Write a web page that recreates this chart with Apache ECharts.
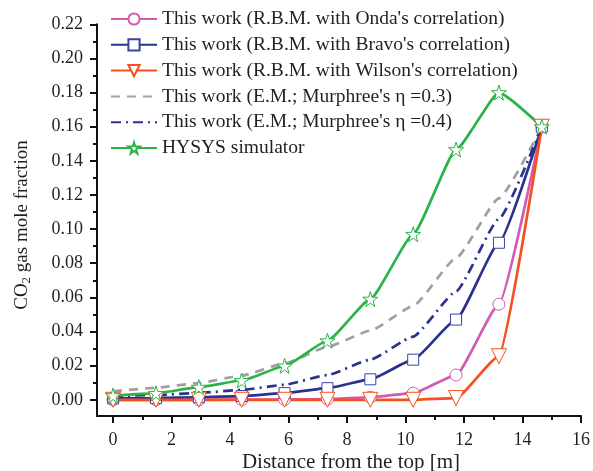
<!DOCTYPE html>
<html>
<head>
<meta charset="utf-8">
<script src="https://cdn.jsdelivr.net/npm/echarts@6/dist/echarts.min.js"></script>
<style>html,body{margin:0;padding:0;background:#fff}#c{width:593px;height:471px}</style>
</head>
<body>
<div id="c"></div>
<script>
// Distance from the top [m]
const xPos = [0, 1.466, 2.932, 4.398, 5.864, 7.33, 8.796, 10.262, 11.728, 13.194, 14.66];
const onda   = [0, 0, 0, 0.0001, 0.0002, 0.0004, 0.0015, 0.0039, 0.0145, 0.056, 0.16];
const bravo  = [0.0008, 0.001, 0.0015, 0.0022, 0.0039, 0.0068, 0.012, 0.0235, 0.047, 0.092, 0.16];
const wilson = [0, 0, 0, 0, 0, 0, 0, 0, 0.001, 0.0255, 0.16];
const eta03  = [0.005, 0.007, 0.0098, 0.0142, 0.0213, 0.031, 0.0405, 0.055, 0.083, 0.118, 0.16];
const eta04  = [0.0022, 0.0028, 0.004, 0.0058, 0.0088, 0.0145, 0.0235, 0.037, 0.0635, 0.106, 0.16];
const hysys  = [0.0025, 0.0038, 0.0074, 0.0113, 0.0198, 0.0346, 0.059, 0.097, 0.1466, 0.18, 0.16];

const seriesNames = [
  "This work (R.B.M. with Onda's correlation)",
  "This work (R.B.M. with Bravo's correlation)",
  "This work (R.B.M. with Wilson's correlation)",
  "This work (E.M.; Murphree's \u03b7 =0.3)",
  "This work (E.M.; Murphree's \u03b7 =0.4)",
  "HYSYS simulator"
];
const xMajor = [0, 2, 4, 6, 8, 10, 12, 14, 16];
const xMinor = [1, 3, 5, 7, 9, 11, 13, 15];
const yMajor = [0, 0.02, 0.04, 0.06, 0.08, 0.10, 0.12, 0.14, 0.16, 0.18, 0.20, 0.22];
const yMinor = [0.01, 0.03, 0.05, 0.07, 0.09, 0.11, 0.13, 0.15, 0.17, 0.19, 0.21];

const pair = arr => arr.map((v, i) => [xPos[i], v]);
const FONT = "'Liberation Serif', 'DejaVu Serif', serif";
const TXT = '#231f20';
const starPath = 'path://M50,2 L61,37 L98,37 L68,59 L79,95 L50,73 L21,95 L32,59 L2,37 L39,37 Z';

const chart = echarts.init(document.getElementById('c'));
const axisLineStyle = {color: '#111', width: 2};
const smoothV = 0.15;
const LW = 2.7;
chart.setOption({
  animation: false,
  backgroundColor: '#fff',
  grid: {left: 97, right: 7, top: 24.3, bottom: 55, containLabel: false},
  legend: {
    orient: 'vertical', left: 105, top: 4,
    itemWidth: 46, itemHeight: 14, itemGap: 5.8,
    textStyle: {fontFamily: FONT, fontSize: 19.5, color: TXT},
    data: seriesNames.map((n, i) => (i === 3 || i === 4) ? {name: n, itemStyle: {opacity: 0}} : {name: n})
  },
  xAxis: [{
    type: 'value', min: -0.55, max: 16,
    axisLine: {show: true, onZero: false, lineStyle: axisLineStyle},
    axisTick: {show: true, length: 7, inside: false, lineStyle: {color: '#111', width: 2}, customValues: xMajor},
    axisLabel: {fontFamily: FONT, fontSize: 18, color: TXT, margin: 15, customValues: xMajor, formatter: v => String(v)},
    splitLine: {show: false}
  }, {
    type: 'value', min: -0.55, max: 16, position: 'bottom', offset: 0,
    axisLine: {show: false, onZero: false},
    axisTick: {show: true, length: 4, lineStyle: {color: '#111', width: 2}, customValues: xMinor},
    axisLabel: {show: false},
    splitLine: {show: false}
  }],
  yAxis: [{
    type: 'value', min: -0.0095, max: 0.22,
    axisLine: {show: true, onZero: false, lineStyle: axisLineStyle},
    axisTick: {show: true, length: 7, lineStyle: {color: '#111', width: 2}, customValues: yMajor},
    axisLabel: {fontFamily: FONT, fontSize: 18, color: TXT, margin: 14, customValues: yMajor, formatter: v => v.toFixed(2)},
    splitLine: {show: false}
  }, {
    type: 'value', min: -0.0095, max: 0.22, position: 'left', offset: 0,
    axisLine: {show: false, onZero: false},
    axisTick: {show: true, length: 4, lineStyle: {color: '#111', width: 2}, customValues: yMinor},
    axisLabel: {show: false},
    splitLine: {show: false}
  }],
  graphic: [{
    type: 'text', x: 22, y: 225, rotation: Math.PI / 2,
    style: {
      text: '{a|CO}{s|2}{a| gas mole fraction}',
      align: 'center', verticalAlign: 'middle',
      rich: {
        a: {fontFamily: FONT, fontSize: 19, fill: TXT, color: TXT},
        s: {fontFamily: FONT, fontSize: 13, fill: TXT, color: TXT, verticalAlign: 'bottom', padding: [10, 0, 0, 0]}
      }
    }
  }, {
    type: 'text', x: 351, y: 462,
    style: {text: 'Distance from the top [m]', fontFamily: FONT, fontSize: 21, fill: TXT, align: 'center', verticalAlign: 'middle'}
  }],
  series: [
    {name: seriesNames[0], type: 'line', data: pair(onda), smooth: smoothV, smoothMonotone: 'x',
     lineStyle: {color: '#d25cb4', width: LW}, itemStyle: {color: '#fff', borderColor: '#d25cb4', borderWidth: 1},
     symbol: 'circle', symbolSize: 12, showAllSymbol: true},
    {name: seriesNames[1], type: 'line', data: pair(bravo), smooth: smoothV, smoothMonotone: 'x',
     lineStyle: {color: '#29338f', width: LW}, itemStyle: {color: '#fff', borderColor: '#3a44a0', borderWidth: 1},
     symbol: 'rect', symbolSize: 11, showAllSymbol: true},
    {name: seriesNames[2], type: 'line', data: pair(wilson), smooth: smoothV, smoothMonotone: 'x',
     lineStyle: {color: '#f4511e', width: LW}, itemStyle: {color: '#fff', borderColor: '#f4511e', borderWidth: 1},
     symbol: 'triangle', symbolRotate: 180, symbolSize: 15, showAllSymbol: true},
    {name: seriesNames[3], type: 'line', data: pair(eta03), smooth: smoothV, smoothMonotone: 'x',
     lineStyle: {color: '#a0a0a0', width: LW, type: [9, 7]}, itemStyle: {color: '#a0a0a0'},
     symbol: 'none'},
    {name: seriesNames[4], type: 'line', data: pair(eta04), smooth: smoothV, smoothMonotone: 'x',
     lineStyle: {color: '#29338f', width: LW, type: [10, 5, 2, 5]}, itemStyle: {color: '#29338f'},
     symbol: 'none'},
    {name: seriesNames[5], type: 'line', data: pair(hysys), smooth: smoothV, smoothMonotone: 'x',
     lineStyle: {color: '#2bb34a', width: LW}, itemStyle: {color: '#fff', borderColor: '#2bb34a', borderWidth: 1},
     symbol: starPath, symbolSize: 15, showAllSymbol: true}
  ]
});
</script>
</body>
</html>
